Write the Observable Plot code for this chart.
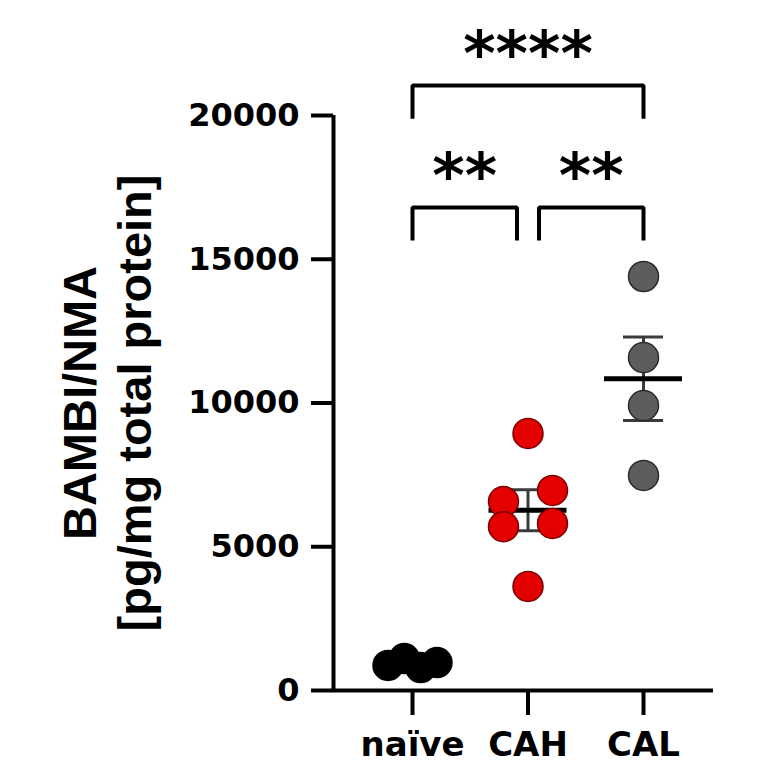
<!DOCTYPE html>
<html>
<head>
<meta charset="utf-8">
<script src="https://cdn.jsdelivr.net/npm/d3@7"></script>
<script src="https://cdn.jsdelivr.net/npm/@observablehq/plot@0.6"></script>
<style>
  html, body { margin: 0; padding: 0; background: #fff; }
</style>
</head>
<body>
<div id="chart"></div>
<script>
// ---- data ----
const groups = ["naïve", "CAH", "CAL"];
const naiveValues = [870, 1110, 800, 970];
const cahValues = [8940, 6570, 6960, 5700, 5810, 3620];
const calValues = [14400, 11580, 9910, 7480];
const yTicks = [0, 5000, 10000, 15000, 20000];
const comparisonFrom = ["naïve", "naïve", "CAH"];
const comparisonTo = ["CAL", "CAH", "CAL"];
const comparisonLabels = ["****", "**", "**"];

// ---- styling / layout ----
const fills = ["#000000", "#e50000", "#5d5d5d"];
const strokes = ["#000000", "#7a0000", "#2a2a2a"];
const W = 764, H = 764;
const mL = 333, mR = 51, mT = 115, mB = 74;
const xDomain = [-0.684, 2.606];
const yDomain = [0, 20000];
const pxPerX = (W - mL - mR) / (xDomain[1] - xDomain[0]);
const pxPerY = (H - mT - mB) / (yDomain[1] - yDomain[0]);
const R = 15, D = 2 * R, SPREAD = 49;

// scatter layout: points closer than a diameter (vertically) share a row and are spread evenly
function spreadOffsets(values) {
  const order = d3.range(values.length).sort((i, j) => values[j] - values[i]);
  const clusters = [];
  let cur = null;
  for (const i of order) {
    if (cur && (values[cur[0]] - values[i]) * pxPerY < D) cur.push(i);
    else { cur = [i]; clusters.push(cur); }
  }
  const off = new Array(values.length).fill(0);
  for (const c of clusters) {
    c.sort((a, b) => a - b);
    const n = c.length;
    c.forEach((i, k) => off[i] = n === 1 ? 0 : -SPREAD / 2 + k * SPREAD / (n - 1));
  }
  return off;
}

const series = [naiveValues, cahValues, calValues];
const points = [];
const stats = [];
series.forEach((vals, gi) => {
  const off = spreadOffsets(vals);
  vals.forEach((v, k) => points.push({gi, value: v, x: gi + off[k] / pxPerX}));
  const mean = d3.mean(vals);
  const sem = d3.deviation(vals) / Math.sqrt(vals.length);
  stats.push({gi, mean, sem});
});

// brackets
const bracketTop = [21040, 16800];
const bracketLeg = 1150;  // data units
const inset = 11 / pxPerX;
const brackets = comparisonFrom.map((a, i) => {
  const ia = groups.indexOf(a), ib = groups.indexOf(comparisonTo[i]);
  const adjacent = ib - ia === 1;
  const x1 = ia + (adjacent && ia === 1 ? inset : 0);
  const x2 = ib - (adjacent && ib === 1 ? inset : 0);
  const top = adjacent ? bracketTop[1] : bracketTop[0];
  return {id: i, x1, x2, top, label: comparisonLabels[i]};
});
const bracketPts = brackets.flatMap(b => [
  {id: b.id, x: b.x1, y: b.top - bracketLeg},
  {id: b.id, x: b.x1, y: b.top},
  {id: b.id, x: b.x2, y: b.top},
  {id: b.id, x: b.x2, y: b.top - bracketLeg}
]);

const font = "DejaVu Sans";
const titleFont = "Liberation Sans, Arial, sans-serif";

const chart = Plot.plot({
  width: W,
  height: H,
  marginLeft: mL,
  marginRight: mR,
  marginTop: mT,
  marginBottom: mB,
  style: {fontFamily: font, background: "#fff", color: "#000"},
  x: {type: "linear", domain: xDomain},
  y: {type: "linear", domain: yDomain},
  marks: [
    Plot.axisY({ticks: yTicks, tickSize: 22, tickPadding: 12, tickFormat: d => String(d),
      fontSize: 32, fontWeight: "bold", fontFamily: font, strokeWidth: 4, label: null}),
    Plot.axisX({ticks: [0, 1, 2], tickFormat: i => groups[i], tickSize: 25, tickPadding: 16,
      fontSize: 34, fontWeight: "bold", fontFamily: font, strokeWidth: 4, label: null}),
    Plot.ruleY([yDomain[0]], {strokeWidth: 4}),
    Plot.ruleX([xDomain[0]], {strokeWidth: 4}),
    // SEM whiskers
    Plot.ruleX(stats, {x: "gi", y1: d => d.mean - d.sem, y2: d => d.mean + d.sem, stroke: "#3a3a3a", strokeWidth: 3}),
    Plot.ruleY(stats, {y: d => d.mean + d.sem, x1: d => d.gi - 20 / pxPerX, x2: d => d.gi + 20 / pxPerX, stroke: "#3a3a3a", strokeWidth: 3}),
    Plot.ruleY(stats, {y: d => d.mean - d.sem, x1: d => d.gi - 20 / pxPerX, x2: d => d.gi + 20 / pxPerX, stroke: "#3a3a3a", strokeWidth: 3}),
    // mean
    Plot.ruleY(stats, {y: "mean", x1: d => d.gi - 39 / pxPerX, x2: d => d.gi + 39 / pxPerX, stroke: "#000", strokeWidth: 5}),
    // points
    Plot.dot(points, {x: "x", y: "value", r: R, fill: d => fills[d.gi], stroke: d => strokes[d.gi], strokeWidth: 1.5}),
    // significance brackets
    Plot.line(bracketPts, {x: "x", y: "y", z: "id", stroke: "#000", strokeWidth: 4, strokeLinejoin: "miter", strokeLinecap: "butt"}),
    Plot.text(brackets, {x: d => (d.x1 + d.x2) / 2, y: "top", text: "label", fontSize: 62, fontWeight: "bold",
      fontFamily: font, lineAnchor: "middle", dy: -30}),
    // y-axis title
    Plot.text(["BAMBI/NMA\n[pg/mg total protein]"], {frameAnchor: "left", rotate: -90, dx: -228,
      textAnchor: "middle", fontSize: 47, fontWeight: "bold", fontFamily: titleFont, lineHeight: 1.17, lineAnchor: "middle"})
  ]
});
document.getElementById("chart").appendChild(chart);
</script>
</body>
</html>
